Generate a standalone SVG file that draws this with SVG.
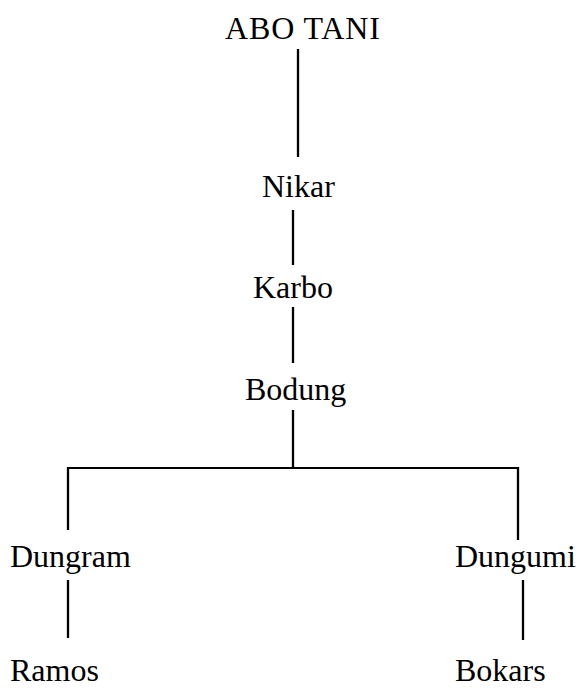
<svg xmlns="http://www.w3.org/2000/svg" width="579" height="689" viewBox="0 0 579 689">
<style>
text{font-family:"Liberation Serif","Times New Roman",serif;font-size:32px;fill:#000}
.c line{stroke:#000;stroke-width:2.3;fill:none}
</style>
<rect width="579" height="689" fill="#fff"/>
<g class="c" id="connectors">
<line x1="298" y1="49" x2="298" y2="157"/>
<line x1="293" y1="210" x2="293" y2="265"/>
<line x1="293" y1="307" x2="293" y2="363"/>
<line x1="293" y1="410" x2="293" y2="468"/>
<line x1="67" y1="468" x2="519" y2="468" style="stroke-width:2"/>
<line x1="68" y1="467" x2="68" y2="530"/>
<line x1="518" y1="467" x2="518" y2="540"/>
<line x1="68" y1="580" x2="68" y2="638"/>
<line x1="523" y1="580" x2="523" y2="640"/>
</g>
<g id="abotani"><text x="225" y="39" textLength="155">ABO TANI</text></g>
<g id="nikar"><text x="262" y="197">Nikar</text></g>
<g id="karbo"><text x="253" y="298">Karbo</text></g>
<g id="bodung"><text x="245" y="400">Bodung</text></g>
<g id="dungram"><text x="10" y="567">Dungram</text></g>
<g id="dungumi"><text x="455" y="567">Dungumi</text></g>
<g id="ramos"><text x="10" y="681">Ramos</text></g>
<g id="bokars"><text x="455" y="681">Bokars</text></g>
</svg>
